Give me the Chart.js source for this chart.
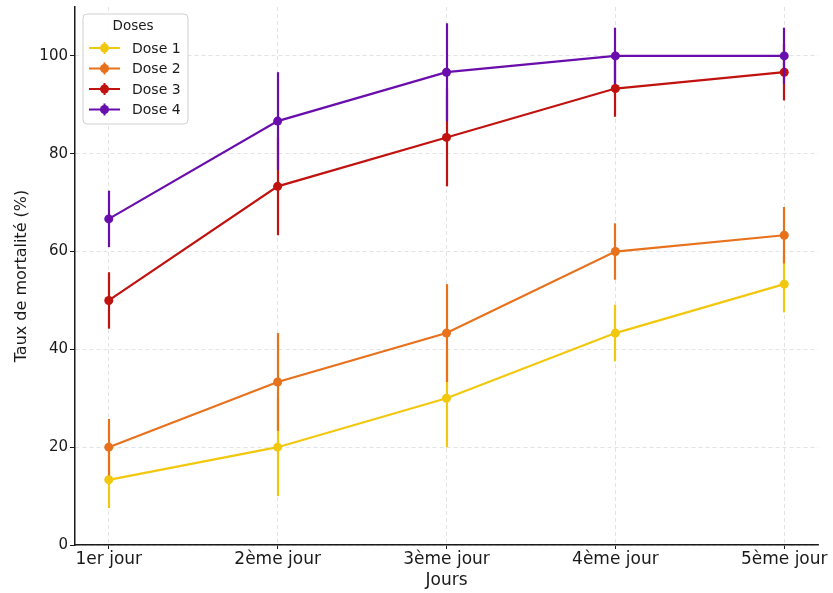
<!DOCTYPE html>
<html>
<head>
<meta charset="utf-8">
<script src="https://cdn.jsdelivr.net/npm/chart.js@4/dist/chart.umd.min.js"></script>
<style>
  body { margin: 0; background: #fff; }
  canvas { display: block; }
</style>
</head>
<body>
<canvas id="chart" width="833" height="593"></canvas>
<script>
// Data
var days = ["1er jour", "2ème jour", "3ème jour", "4ème jour", "5ème jour"];
var yTicks = [0, 20, 40, 60, 80, 100];

var dose1 = [13.33, 20, 30, 43.33, 53.33];
var dose2 = [20, 33.33, 43.33, 60, 63.33];
var dose3 = [50, 73.33, 83.33, 93.33, 96.67];
var dose4 = [66.67, 86.67, 96.67, 100, 100];

var err1 = [5.77, 10, 10, 5.77, 5.77];
var err2 = [5.77, 10, 10, 5.77, 5.77];
var err3 = [5.77, 10, 10, 5.77, 5.77];
var err4 = [5.77, 10, 10, 5.77, 5.77];

var names = ["Dose 1", "Dose 2", "Dose 3", "Dose 4"];
var colors = ["#f2c80f", "#e8711c", "#c0120f", "#6a0dad"];
var values = [dose1, dose2, dose3, dose4];
var errors = [err1, err2, err3, err4];

var FONT = "'DejaVu Sans', sans-serif";
var TEXT = "#1a1a1a";

// Vertical error bars, drawn just before each line so the markers sit on top
var errorBars = {
	id: "errorBars",
	beforeDatasetDraw: function(chart, args) {
		var ds = chart.data.datasets[args.index];
		var ys = chart.scales.y;
		var ctx = chart.ctx;
		ctx.save();
		ctx.strokeStyle = ds.borderColor;
		ctx.lineWidth = 2.2;
		args.meta.data.forEach(function(pt, i) {
			var v = ds.data[i].y;
			var e = ds.errors[i];
			var px = Math.round(pt.x);
			ctx.beginPath();
			ctx.moveTo(px, ys.getPixelForValue(v - e));
			ctx.lineTo(px, ys.getPixelForValue(v + e));
			ctx.stroke();
		});
		ctx.restore();
	}
};

// Boxed legend in the upper left corner of the plot
var doseLegend = {
	id: "doseLegend",
	afterDraw: function(chart) {
		var ctx = chart.ctx;
		var area = chart.chartArea;
		var x = area.left + 8, y = area.top + 7, w = 105, h = 110;
		ctx.save();
		ctx.beginPath();
		ctx.roundRect(x, y, w, h, 4);
		ctx.fillStyle = "rgba(255,255,255,0.85)";
		ctx.fill();
		ctx.strokeStyle = "#d0d0d0";
		ctx.lineWidth = 1;
		ctx.stroke();

		ctx.fillStyle = TEXT;
		ctx.font = "13.5px " + FONT;
		ctx.textAlign = "center";
		ctx.textBaseline = "middle";
		ctx.fillText("Doses", x + 50, y + 12);

		ctx.textAlign = "left";
		ctx.font = "14px " + FONT;
		for (var i = 0; i < names.length; i++) {
			var cy = y + 34 + i * 20.5;
			ctx.strokeStyle = colors[i];
			ctx.fillStyle = colors[i];
			ctx.lineWidth = 2;
			ctx.beginPath();
			ctx.moveTo(x + 6, cy);
			ctx.lineTo(x + 37, cy);
			ctx.moveTo(x + 21.5, cy - 6);
			ctx.lineTo(x + 21.5, cy + 6);
			ctx.stroke();
			ctx.beginPath();
			ctx.arc(x + 21.5, cy, 4.5, 0, Math.PI * 2);
			ctx.fill();
			ctx.fillStyle = TEXT;
			ctx.fillText(names[i], x + 49, cy + 1);
		}
		ctx.restore();
	}
};

var datasets = [];
for (var i = 0; i < names.length; i++) {
	datasets.push({
		label: names[i],
		data: values[i].map(function(v, j) { return { x: j, y: v }; }),
		errors: errors[i],
		borderColor: colors[i],
		backgroundColor: colors[i],
		borderWidth: 2.2,
		pointRadius: 4.5,
		pointBorderWidth: 0,
		pointBackgroundColor: colors[i],
		tension: 0,
		order: names.length - 1 - i
	});
}

new Chart(document.getElementById("chart"), {
	type: "line",
	data: { datasets: datasets },
	plugins: [errorBars, doseLegend],
	options: {
		responsive: false,
		animation: false,
		layout: { padding: { left: 0, top: 7, right: 15, bottom: 0 } },
		plugins: {
			legend: { display: false },
			tooltip: { enabled: false }
		},
		scales: {
			x: {
				type: "linear",
				min: -0.2,
				max: 4.2,
				afterBuildTicks: function(scale) {
					scale.ticks = days.map(function(d, i) { return { value: i }; });
				},
				afterFit: function(scale) {
					scale.height = 48;
					scale.paddingLeft = 0;
					scale.paddingRight = 0;
				},
				ticks: {
					autoSkip: false,
					maxRotation: 0,
					padding: 0,
					color: TEXT,
					font: { family: FONT, size: 17 },
					callback: function(v) { return days[v]; }
				},
				grid: {
					color: "#dcdcdc",
					lineWidth: 0.8,
					tickColor: "#1a1a1a",
					tickLength: 4,
					tickWidth: 1
				},
				border: { display: true, color: "#1a1a1a", width: 1.5, dash: [4, 3] },
				title: {
					display: true,
					text: "Jours",
					color: TEXT,
					font: { family: FONT, size: 17 },
					padding: { top: 0, bottom: 2 }
				}
			},
			y: {
				min: 0,
				max: 110,
				afterBuildTicks: function(scale) {
					scale.ticks = yTicks.map(function(v) { return { value: v }; });
				},
				afterFit: function(scale) {
					scale.width = 75;
					scale.paddingTop = 0;
					scale.paddingBottom = 0;
				},
				ticks: {
					padding: 2,
					color: TEXT,
					font: { family: FONT, size: 15 }
				},
				grid: {
					color: "#dcdcdc",
					lineWidth: 0.8,
					tickColor: "#1a1a1a",
					tickLength: 5,
					tickWidth: 1
				},
				border: { display: true, color: "#1a1a1a", width: 1.5, dash: [4, 3] },
				title: {
					display: true,
					text: "Taux de mortalité (%)",
					color: TEXT,
					font: { family: FONT, size: 16 },
					padding: { top: 12, bottom: 0 }
				}
			}
		}
	}
});
</script>
</body>
</html>
